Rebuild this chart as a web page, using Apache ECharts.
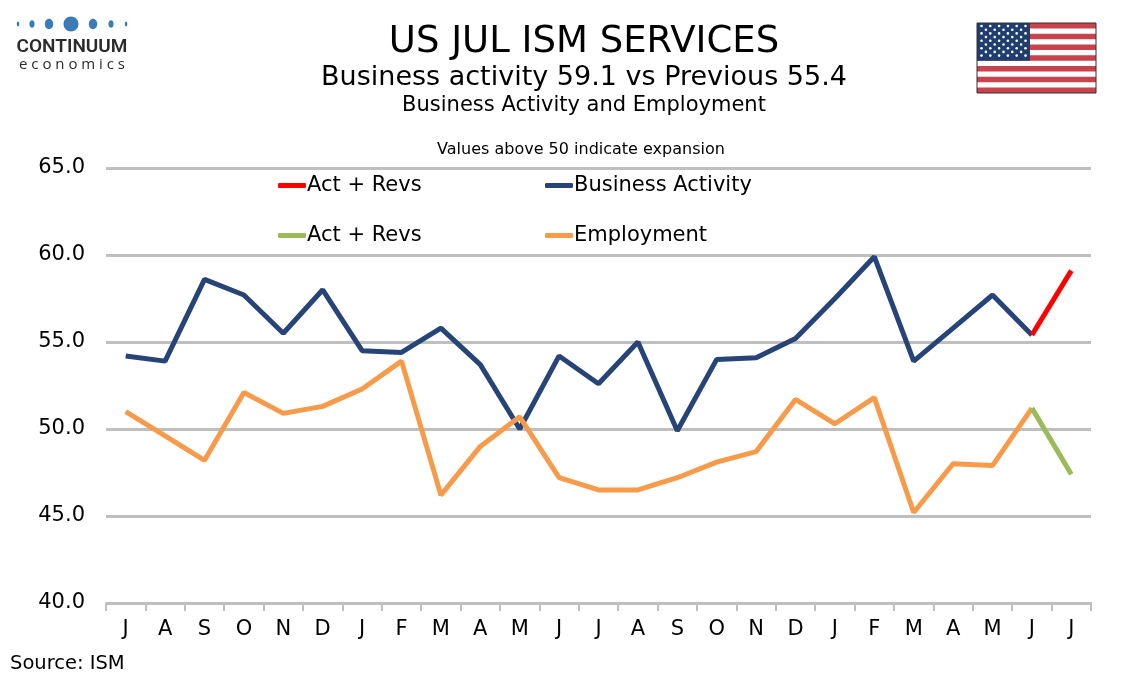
<!DOCTYPE html>
<html>
<head>
<meta charset="utf-8">
<script src="https://cdn.jsdelivr.net/npm/echarts@6/dist/echarts.min.js"></script>
<style>
html,body{margin:0;padding:0;background:#fff;}
#chart{width:1134px;height:680px;}
</style>
</head>
<body>
<div id="chart"></div>
<script>
const months = ['J','A','S','O','N','D','J','F','M','A','M','J','J','A','S','O','N','D','J','F','M','A','M','J','J'];
const businessActivity = [54.2,53.9,58.6,57.7,55.5,58.0,54.5,54.4,55.8,53.7,50.0,54.2,52.6,55.0,49.9,54.0,54.1,55.2,57.5,59.9,53.9,55.8,57.7,55.4,null];
const employment = [51.0,49.6,48.2,52.1,50.9,51.3,52.3,53.9,46.2,49.0,50.7,47.2,46.5,46.5,47.2,48.1,48.7,51.7,50.3,51.8,45.2,48.0,47.9,51.2,null];
const actRevsActivity = [null,null,null,null,null,null,null,null,null,null,null,null,null,null,null,null,null,null,null,null,null,null,null,55.4,59.1];
const actRevsEmployment = [null,null,null,null,null,null,null,null,null,null,null,null,null,null,null,null,null,null,null,null,null,null,null,51.2,47.4];
const yTicks = {min:40, max:65, interval:5};

const FONT = "'DejaVu Sans', Verdana, sans-serif";
const C_BLUE = '#264478', C_ORANGE = '#F79A4A', C_RED = '#FF0000', C_GREEN = '#9BBB59';
const LW = 5;

const chart = echarts.init(document.getElementById('chart'));

// logo + flag graphics
const graphics = [];
const dots = [[18,1.3,2.5],[32,2.6,3.8],[49,4.2,5.2],[71,7.5,7.5],[93,4.2,5.2],[111,2.6,3.8],[126,1.3,2.5]];
dots.forEach(d=>graphics.push({type:'ellipse',shape:{cx:d[0],cy:24,rx:d[1],ry:d[2]},style:{fill:'#3B7BB8'},silent:true}));
graphics.push({type:'text',style:{text:'CONTINUUM',x:72,y:47,textAlign:'center',textVerticalAlign:'middle',font:"600 19px 'Liberation Sans Narrow', 'Roboto', 'DejaVu Sans Condensed', sans-serif",fill:'#2b2b2b'}});
graphics.push({type:'text',style:{text:'e c o n o m i c s',x:72,y:65,textAlign:'center',textVerticalAlign:'middle',font:"15px 'Open Sans', 'DejaVu Sans', sans-serif",fill:'#2b2b2b'}});

// flag
const fx=977, fy=23, fw=119, fh=70;
const sh = fh/13;
graphics.push({type:'rect',shape:{x:fx,y:fy,width:fw,height:fh},style:{fill:'#fff'},silent:true});
for(let i=0;i<13;i+=2){
  graphics.push({type:'rect',shape:{x:fx,y:fy+i*sh,width:fw,height:sh},style:{fill:'#C8434B'},silent:true});
}
const cw = 53, ch = sh*7;
graphics.push({type:'rect',shape:{x:fx,y:fy,width:cw,height:ch},style:{fill:'#1F3D6E'},silent:true});
for(let r=0;r<9;r++){
  const n = r%2===0?6:5;
  for(let c=0;c<n;c++){
    const sx = fx + (r%2===0 ? 4.5 + c*8.8 : 8.9 + c*8.8);
    const sy = fy + 3 + r*3.7;
    graphics.push({type:'circle',shape:{cx:sx,cy:sy,r:1.3},style:{fill:'#fff'},silent:true});
  }
}
graphics.push({type:'rect',shape:{x:fx,y:fy,width:fw,height:fh},style:{fill:'none',stroke:'#333',lineWidth:1},silent:true});

// titles
graphics.push({type:'text',style:{text:'US JUL ISM SERVICES',x:584,y:42,textAlign:'center',textVerticalAlign:'middle',font:"37px "+FONT,fill:'#000'}});
graphics.push({type:'text',style:{text:'Business activity 59.1 vs Previous 55.4',x:584,y:78,textAlign:'center',textVerticalAlign:'middle',font:"27px "+FONT,fill:'#000'}});
graphics.push({type:'text',style:{text:'Business Activity and Employment',x:584,y:106,textAlign:'center',textVerticalAlign:'middle',font:"21px "+FONT,fill:'#000'}});
graphics.push({type:'text',style:{text:'Values above 50 indicate expansion',x:581,y:150,textAlign:'center',textVerticalAlign:'middle',font:"16px "+FONT,fill:'#000'}});
graphics.push({type:'text',style:{text:'Source: ISM',x:10,y:664,textAlign:'left',textVerticalAlign:'middle',font:"19.5px "+FONT,fill:'#000'}});

function legendAt(name,left,top){
  return {data:[name],left:left,top:top,padding:0,icon:'roundRect',itemWidth:28,itemHeight:5,itemGap:0,
    textStyle:{fontFamily:FONT,fontSize:21,color:'#000',padding:[0,0,0,-4]},selectedMode:false};
}

chart.setOption({
  animation:false,
  backgroundColor:'#fff',
  graphic:graphics,
  legend:[
    legendAt('Act + Revs',278,175),
    legendAt('Business Activity',545,175),
    legendAt('Act + Revs ',278,225),
    legendAt('Employment',545,225)
  ],
  grid:{left:106,right:43,top:168,bottom:77,containLabel:false},
  xAxis:{
    type:'category',data:months,boundaryGap:true,
    axisLine:{lineStyle:{color:'#BFBFBF',width:2}},
    axisTick:{show:true,length:8,lineStyle:{color:'#BFBFBF',width:2},alignWithLabel:false},
    axisLabel:{fontFamily:FONT,fontSize:21,color:'#000',margin:16,interval:0},
    splitLine:{show:false}
  },
  yAxis:{
    type:'value',min:yTicks.min,max:yTicks.max,interval:yTicks.interval,
    axisLine:{show:false},axisTick:{show:false},
    axisLabel:{fontFamily:FONT,fontSize:21,color:'#000',margin:21,formatter:v=>v.toFixed(1)},
    splitLine:{show:true,lineStyle:{color:'#BFBFBF',width:3}}
  },
  series:[
    {name:'Act + Revs',type:'line',data:actRevsActivity,symbol:'none',lineStyle:{color:C_RED,width:LW},itemStyle:{color:C_RED},z:3},
    {name:'Business Activity',type:'line',data:businessActivity,symbol:'none',lineStyle:{color:C_BLUE,width:LW},itemStyle:{color:C_BLUE},z:2},
    {name:'Act + Revs ',type:'line',data:actRevsEmployment,symbol:'none',lineStyle:{color:C_GREEN,width:LW},itemStyle:{color:C_GREEN},z:3},
    {name:'Employment',type:'line',data:employment,symbol:'none',lineStyle:{color:C_ORANGE,width:LW},itemStyle:{color:C_ORANGE},z:2}
  ]
});
</script>
</body>
</html>
